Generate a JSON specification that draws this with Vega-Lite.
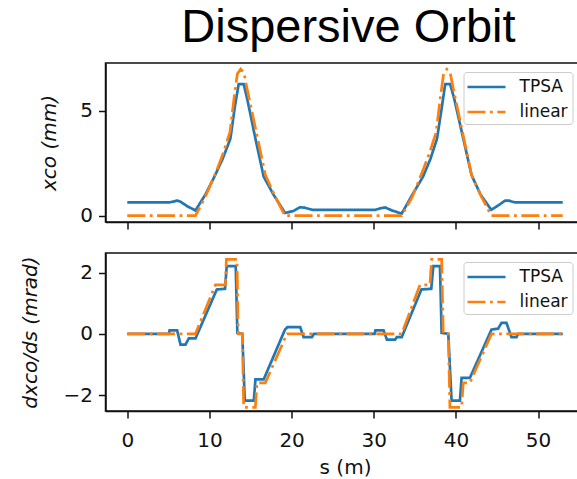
{
  "$schema": "https://vega.github.io/schema/vega-lite/v6.json",
  "padding": {"left": 18.5, "top": 4, "right": 0, "bottom": 0},
  "background": "white",
  "title": {"text": "Dispersive Orbit", "anchor": "start", "dx": 162, "offset": 10, "fontSize": 47, "font": "Liberation Sans", "fontWeight": "normal", "color": "black"},
  "datasets": {
    "top": [
      {"series": "TPSA", "s": 0, "v": 0.63}, {"series": "TPSA", "s": 5.1, "v": 0.63}, {"series": "TPSA", "s": 5.7, "v": 0.68}, {"series": "TPSA", "s": 6.1, "v": 0.72}, {"series": "TPSA", "s": 6.5, "v": 0.66}, {"series": "TPSA", "s": 7.3, "v": 0.45}, {"series": "TPSA", "s": 8.3, "v": 0.25}, {"series": "TPSA", "s": 9.5, "v": 1.0}, {"series": "TPSA", "s": 10.7, "v": 1.93}, {"series": "TPSA", "s": 11.6, "v": 2.7}, {"series": "TPSA", "s": 12.55, "v": 3.66}, {"series": "TPSA", "s": 13.1, "v": 5.2}, {"series": "TPSA", "s": 13.56, "v": 6.26}, {"series": "TPSA", "s": 14.17, "v": 6.26}, {"series": "TPSA", "s": 14.6, "v": 5.55}, {"series": "TPSA", "s": 15.6, "v": 3.66}, {"series": "TPSA", "s": 16.6, "v": 1.86}, {"series": "TPSA", "s": 17.8, "v": 1.0}, {"series": "TPSA", "s": 19.2, "v": 0.13}, {"series": "TPSA", "s": 20.2, "v": 0.22}, {"series": "TPSA", "s": 21.0, "v": 0.4}, {"series": "TPSA", "s": 21.6, "v": 0.38}, {"series": "TPSA", "s": 22.5, "v": 0.28}, {"series": "TPSA", "s": 30.2, "v": 0.28}, {"series": "TPSA", "s": 30.8, "v": 0.35}, {"series": "TPSA", "s": 31.4, "v": 0.39}, {"series": "TPSA", "s": 32.2, "v": 0.25}, {"series": "TPSA", "s": 33.4, "v": 0.1}, {"series": "TPSA", "s": 34.7, "v": 1.0}, {"series": "TPSA", "s": 36.0, "v": 1.86}, {"series": "TPSA", "s": 36.9, "v": 2.7}, {"series": "TPSA", "s": 37.7, "v": 3.66}, {"series": "TPSA", "s": 38.3, "v": 5.2}, {"series": "TPSA", "s": 38.7, "v": 6.26}, {"series": "TPSA", "s": 39.3, "v": 6.26}, {"series": "TPSA", "s": 39.8, "v": 5.55}, {"series": "TPSA", "s": 40.9, "v": 3.66}, {"series": "TPSA", "s": 41.9, "v": 1.93}, {"series": "TPSA", "s": 43.0, "v": 1.0}, {"series": "TPSA", "s": 44.3, "v": 0.28}, {"series": "TPSA", "s": 45.2, "v": 0.5}, {"series": "TPSA", "s": 46.0, "v": 0.72}, {"series": "TPSA", "s": 46.4, "v": 0.72}, {"series": "TPSA", "s": 47.2, "v": 0.63}, {"series": "TPSA", "s": 53, "v": 0.63},
      {"series": "linear", "s": 0, "v": 0}, {"series": "linear", "s": 8.3, "v": 0}, {"series": "linear", "s": 9.5, "v": 0.9}, {"series": "linear", "s": 10.9, "v": 2.17}, {"series": "linear", "s": 11.7, "v": 3.0}, {"series": "linear", "s": 12.5, "v": 3.98}, {"series": "linear", "s": 13.0, "v": 5.6}, {"series": "linear", "s": 13.4, "v": 6.75}, {"series": "linear", "s": 13.8, "v": 6.97}, {"series": "linear", "s": 14.2, "v": 6.8}, {"series": "linear", "s": 14.6, "v": 6.0}, {"series": "linear", "s": 15.8, "v": 3.8}, {"series": "linear", "s": 16.8, "v": 1.95}, {"series": "linear", "s": 18.0, "v": 0.9}, {"series": "linear", "s": 19.2, "v": 0}, {"series": "linear", "s": 33.4, "v": 0}, {"series": "linear", "s": 34.7, "v": 0.9}, {"series": "linear", "s": 36.0, "v": 2.17}, {"series": "linear", "s": 36.8, "v": 3.0}, {"series": "linear", "s": 37.6, "v": 3.98}, {"series": "linear", "s": 38.1, "v": 5.6}, {"series": "linear", "s": 38.5, "v": 6.75}, {"series": "linear", "s": 38.9, "v": 6.97}, {"series": "linear", "s": 39.3, "v": 6.8}, {"series": "linear", "s": 39.7, "v": 6.0}, {"series": "linear", "s": 40.9, "v": 3.8}, {"series": "linear", "s": 41.9, "v": 1.95}, {"series": "linear", "s": 43.1, "v": 0.9}, {"series": "linear", "s": 44.3, "v": 0}, {"series": "linear", "s": 53, "v": 0}
    ],
    "bot": [
      {"series": "TPSA", "s": 0, "v": 0}, {"series": "TPSA", "s": 5.06, "v": 0}, {"series": "TPSA", "s": 5.15, "v": 0.11}, {"series": "TPSA", "s": 6.07, "v": 0.11}, {"series": "TPSA", "s": 6.48, "v": -0.35}, {"series": "TPSA", "s": 7.09, "v": -0.35}, {"series": "TPSA", "s": 7.49, "v": -0.15}, {"series": "TPSA", "s": 8.3, "v": -0.15}, {"series": "TPSA", "s": 10.9, "v": 1.45}, {"series": "TPSA", "s": 11.9, "v": 1.47}, {"series": "TPSA", "s": 12.1, "v": 2.21}, {"series": "TPSA", "s": 13.2, "v": 2.21}, {"series": "TPSA", "s": 13.4, "v": 0.03}, {"series": "TPSA", "s": 14.0, "v": 0.0}, {"series": "TPSA", "s": 14.3, "v": -2.18}, {"series": "TPSA", "s": 15.4, "v": -2.18}, {"series": "TPSA", "s": 15.6, "v": -1.49}, {"series": "TPSA", "s": 16.6, "v": -1.49}, {"series": "TPSA", "s": 19.2, "v": 0.14}, {"series": "TPSA", "s": 19.5, "v": 0.22}, {"series": "TPSA", "s": 21.05, "v": 0.22}, {"series": "TPSA", "s": 21.46, "v": -0.11}, {"series": "TPSA", "s": 22.47, "v": -0.11}, {"series": "TPSA", "s": 22.7, "v": 0}, {"series": "TPSA", "s": 30.1, "v": 0}, {"series": "TPSA", "s": 30.2, "v": 0.11}, {"series": "TPSA", "s": 31.2, "v": 0.11}, {"series": "TPSA", "s": 31.6, "v": -0.19}, {"series": "TPSA", "s": 32.6, "v": -0.19}, {"series": "TPSA", "s": 32.8, "v": -0.11}, {"series": "TPSA", "s": 33.4, "v": -0.11}, {"series": "TPSA", "s": 35.8, "v": 1.45}, {"series": "TPSA", "s": 37.0, "v": 1.47}, {"series": "TPSA", "s": 37.25, "v": 2.21}, {"series": "TPSA", "s": 38.06, "v": 2.21}, {"series": "TPSA", "s": 38.26, "v": 0.03}, {"series": "TPSA", "s": 39.07, "v": 0.0}, {"series": "TPSA", "s": 39.47, "v": -2.18}, {"series": "TPSA", "s": 40.49, "v": -2.18}, {"series": "TPSA", "s": 40.69, "v": -1.44}, {"series": "TPSA", "s": 41.7, "v": -1.44}, {"series": "TPSA", "s": 44.33, "v": 0.14}, {"series": "TPSA", "s": 45.14, "v": 0.17}, {"series": "TPSA", "s": 45.55, "v": 0.36}, {"series": "TPSA", "s": 46.15, "v": 0.36}, {"series": "TPSA", "s": 46.76, "v": -0.11}, {"series": "TPSA", "s": 47.37, "v": -0.11}, {"series": "TPSA", "s": 47.57, "v": 0}, {"series": "TPSA", "s": 53, "v": 0},
      {"series": "linear", "s": 0, "v": 0}, {"series": "linear", "s": 8.3, "v": 0}, {"series": "linear", "s": 10.73, "v": 1.6}, {"series": "linear", "s": 11.94, "v": 1.6}, {"series": "linear", "s": 12.06, "v": 2.43}, {"series": "linear", "s": 13.36, "v": 2.43}, {"series": "linear", "s": 13.5, "v": 0}, {"series": "linear", "s": 14.0, "v": 0}, {"series": "linear", "s": 14.17, "v": -2.4}, {"series": "linear", "s": 15.59, "v": -2.4}, {"series": "linear", "s": 15.79, "v": -1.6}, {"series": "linear", "s": 16.8, "v": -1.6}, {"series": "linear", "s": 19.43, "v": 0}, {"series": "linear", "s": 33.4, "v": 0}, {"series": "linear", "s": 35.63, "v": 1.6}, {"series": "linear", "s": 36.84, "v": 1.6}, {"series": "linear", "s": 37.04, "v": 2.43}, {"series": "linear", "s": 38.26, "v": 2.43}, {"series": "linear", "s": 38.46, "v": 0}, {"series": "linear", "s": 39.07, "v": 0}, {"series": "linear", "s": 39.27, "v": -2.4}, {"series": "linear", "s": 40.69, "v": -2.4}, {"series": "linear", "s": 40.89, "v": -1.6}, {"series": "linear", "s": 41.7, "v": -1.6}, {"series": "linear", "s": 44.33, "v": 0}, {"series": "linear", "s": 53, "v": 0}
    ]
  },
  "config": {
    "view": {"stroke": "#111", "strokeWidth": 1.5},
    "axis": {"grid": false, "labelFont": "DejaVu Sans", "labelFontSize": 20, "labelColor": "#111", "tickColor": "#111", "tickSize": 7, "tickWidth": 1.5, "labelPadding": 6, "domainColor": "#111", "domainWidth": 1.5, "titleFont": "DejaVu Sans", "titleFontSize": 20, "titleFontWeight": "normal", "titleColor": "#111"},
    "legend": {"orient": "none", "legendX": 358, "legendY": 9, "title": null, "symbolType": "M-2,0H2", "symbolSize": 361, "symbolStrokeWidth": 2.7, "symbolOffset": 8, "labelFont": "DejaVu Sans", "labelFontSize": 17, "labelColor": "#111", "labelOffset": 22, "strokeColor": "#cccccc", "fillColor": "rgba(255,255,255,0.8)", "padding": 4, "cornerRadius": 3, "rowPadding": 6}
  },
  "resolve": {"legend": {"color": "independent", "strokeDash": "independent"}},
  "spacing": 21,
  "vconcat": [
    {
      "width": 479, "height": 159,
      "data": {"name": "top"},
      "mark": {"type": "line", "strokeWidth": 2.7, "clip": true},
      "encoding": {
        "x": {"field": "s", "type": "quantitative", "scale": {"domain": [-2.65, 55.65], "nice": false, "zero": false}, "axis": {"labels": false, "title": null, "values": [0, 10, 20, 30, 40, 50]}},
        "y": {"field": "v", "type": "quantitative", "scale": {"domain": [-0.3, 7.26], "nice": false, "zero": false}, "axis": {"values": [0, 5], "title": "xco (mm)", "titleFontStyle": "italic", "titlePadding": 20}},
        "color": {"field": "series", "type": "nominal", "scale": {"domain": ["TPSA", "linear"], "range": ["#1f77b4", "#ff7f0e"]}},
        "strokeDash": {"field": "series", "type": "nominal", "scale": {"domain": ["TPSA", "linear"], "range": [[1, 0], [18, 4.5, 2.8, 4.5]]}}
      }
    },
    {
      "width": 479, "height": 158,
      "data": {"name": "bot"},
      "mark": {"type": "line", "strokeWidth": 2.7, "clip": true},
      "encoding": {
        "x": {"field": "s", "type": "quantitative", "scale": {"domain": [-2.65, 55.65], "nice": false, "zero": false}, "axis": {"title": "s (m)", "values": [0, 10, 20, 30, 40, 50], "labelPadding": 12, "titlePadding": 7}},
        "y": {"field": "v", "type": "quantitative", "scale": {"domain": [-2.52, 2.64], "nice": false, "zero": false}, "axis": {"values": [-2, 0, 2], "title": "dxco/ds (mrad)", "titleFontStyle": "italic", "titlePadding": 23, "labelExpr": "replace(datum.label, '-', '−')"}},
        "color": {"field": "series", "type": "nominal", "scale": {"domain": ["TPSA", "linear"], "range": ["#1f77b4", "#ff7f0e"]}},
        "strokeDash": {"field": "series", "type": "nominal", "scale": {"domain": ["TPSA", "linear"], "range": [[1, 0], [18, 4.5, 2.8, 4.5]]}}
      }
    }
  ]
}
